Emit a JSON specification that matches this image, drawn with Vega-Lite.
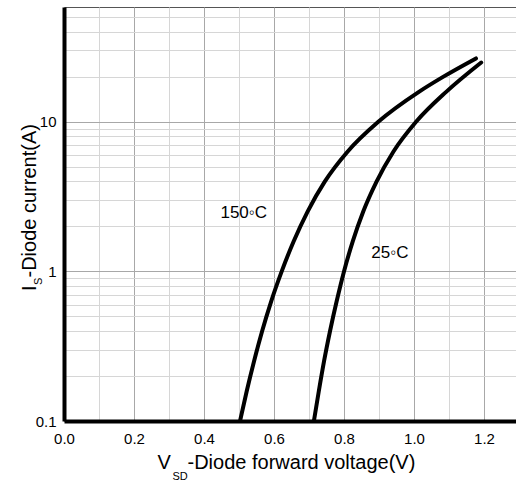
{
  "$schema": "https://vega.github.io/schema/vega-lite/v6.json",
  "width": 455,
  "height": 414,
  "autosize": {"type": "none"},
  "padding": {"left": 64, "top": 7, "right": 0, "bottom": 59},
  "background": "white",
  "config": {
    "view": {"stroke": "#555555", "strokeWidth": 1},
    "font": "Liberation Sans",
    "axis": {
      "labelFont": "Liberation Sans",
      "labelFontSize": 15,
      "labelColor": "black",
      "titleFont": "Liberation Sans",
      "titleFontWeight": "normal",
      "titleFontSize": 20,
      "titleColor": "black",
      "ticks": false,
      "labelOverlap": false,
      "labelBound": false,
      "labelFlush": false
    }
  },
  "datasets": {
    "curves": [
      {"temp": "150", "v": 0.503, "i": 0.1},
      {"temp": "150", "v": 0.522, "i": 0.158},
      {"temp": "150", "v": 0.543, "i": 0.251},
      {"temp": "150", "v": 0.566, "i": 0.398},
      {"temp": "150", "v": 0.592, "i": 0.631},
      {"temp": "150", "v": 0.622, "i": 1.0},
      {"temp": "150", "v": 0.656, "i": 1.585},
      {"temp": "150", "v": 0.696, "i": 2.512},
      {"temp": "150", "v": 0.745, "i": 3.981},
      {"temp": "150", "v": 0.81, "i": 6.31},
      {"temp": "150", "v": 0.898, "i": 10.0},
      {"temp": "150", "v": 1.014, "i": 15.85},
      {"temp": "150", "v": 1.083, "i": 19.95},
      {"temp": "150", "v": 1.177, "i": 26.5},
      {"temp": "25", "v": 0.714, "i": 0.1},
      {"temp": "25", "v": 0.728, "i": 0.158},
      {"temp": "25", "v": 0.743, "i": 0.251},
      {"temp": "25", "v": 0.76, "i": 0.398},
      {"temp": "25", "v": 0.779, "i": 0.631},
      {"temp": "25", "v": 0.8, "i": 1.0},
      {"temp": "25", "v": 0.825, "i": 1.585},
      {"temp": "25", "v": 0.855, "i": 2.512},
      {"temp": "25", "v": 0.893, "i": 3.981},
      {"temp": "25", "v": 0.941, "i": 6.31},
      {"temp": "25", "v": 1.006, "i": 10.0},
      {"temp": "25", "v": 1.092, "i": 15.85},
      {"temp": "25", "v": 1.192, "i": 24.9}
    ],
    "labels": [
      {"label": "150◦C", "v": 0.447, "i": 2.46},
      {"label": "25◦C", "v": 0.878, "i": 1.33}
    ]
  },
  "resolve": {"axis": {"x": "independent", "y": "independent"}},
  "layer": [
    {
      "data": {"name": "curves"},
      "mark": {"type": "line", "color": "black", "strokeWidth": 4, "strokeCap": "round", "interpolate": "monotone", "clip": true},
      "encoding": {
        "x": {
          "field": "v",
          "type": "quantitative",
          "scale": {"domain": [0, 1.3], "nice": false, "zero": false},
          "axis": {
            "orient": "bottom",
            "values": [0, 0.1, 0.2, 0.3, 0.4, 0.5, 0.6, 0.7, 0.8, 0.9, 1.0, 1.1, 1.2, 1.3],
            "grid": true,
            "gridWidth": 1,
            "gridColor": {"condition": {"test": "round(datum.value * 10) % 2 === 0", "value": "#a8a8a8"}, "value": "#d6d6d6"},
            "domainColor": "black",
            "domainWidth": 4,
            "labelExpr": "round(datum.value * 10) % 2 === 0 ? format(datum.value, '.1f') : ''",
            "labelPadding": 10,
            "title": "V",
            "titleX": 93,
            "titleY": 47,
            "titleAlign": "left",
            "titleBaseline": "alphabetic"
          }
        },
        "y": {
          "field": "i",
          "type": "quantitative",
          "scale": {"type": "log", "domain": [0.1, 58.5], "nice": false},
          "axis": {
            "orient": "left",
            "values": [0.1, 0.2, 0.3, 0.4, 0.5, 0.6, 0.7, 0.8, 0.9, 1, 2, 3, 4, 5, 6, 7, 8, 9, 10, 20, 30, 40, 50],
            "format": "~g",
            "grid": true,
            "gridWidth": 1,
            "gridColor": {"condition": {"test": "abs(log(datum.value) / LN10 - round(log(datum.value) / LN10)) < 0.001", "value": "#a8a8a8"}, "value": "#d6d6d6"},
            "domainColor": "black",
            "domainWidth": 4,
            "labelExpr": "abs(log(datum.value) / LN10 - round(log(datum.value) / LN10)) < 0.001 ? datum.label : ''",
            "labelPadding": 8,
            "title": "I",
            "titleAngle": 270,
            "titleX": -29,
            "titleY": 283.5,
            "titleAlign": "left",
            "titleBaseline": "alphabetic"
          }
        },
        "detail": {"field": "temp"}
      }
    },
    {
      "data": {"name": "labels"},
      "transform": [{"filter": "datum.label === '150◦C'"}],
      "mark": {"type": "text", "align": "left", "baseline": "middle", "fontSize": 17, "font": "Liberation Sans", "color": "black"},
      "encoding": {
        "x": {
          "field": "v",
          "type": "quantitative",
          "axis": {"orient": "bottom", "domain": false, "labels": false, "grid": false, "title": "SD", "titleFontSize": 11, "titleX": 108, "titleY": 58, "titleAlign": "left", "titleBaseline": "alphabetic"}
        },
        "y": {
          "field": "i",
          "type": "quantitative",
          "axis": {"orient": "left", "domain": false, "labels": false, "grid": false, "title": "S", "titleFontSize": 11, "titleAngle": 270, "titleX": -23, "titleY": 277.5, "titleAlign": "left", "titleBaseline": "alphabetic"}
        },
        "text": {"field": "label"}
      }
    },
    {
      "data": {"name": "labels"},
      "transform": [{"filter": "datum.label === '25◦C'"}],
      "mark": {"type": "text", "align": "left", "baseline": "middle", "fontSize": 17, "font": "Liberation Sans", "color": "black"},
      "encoding": {
        "x": {
          "field": "v",
          "type": "quantitative",
          "axis": {"orient": "bottom", "domain": false, "labels": false, "grid": false, "title": "-Diode forward voltage(V)", "titleX": 123, "titleY": 47, "titleAlign": "left", "titleBaseline": "alphabetic"}
        },
        "y": {
          "field": "i",
          "type": "quantitative",
          "axis": {"orient": "left", "domain": false, "labels": false, "grid": false, "title": "-Diode current(A)", "titleAngle": 270, "titleX": -29, "titleY": 270, "titleAlign": "left", "titleBaseline": "alphabetic"}
        },
        "text": {"field": "label"}
      }
    }
  ]
}
